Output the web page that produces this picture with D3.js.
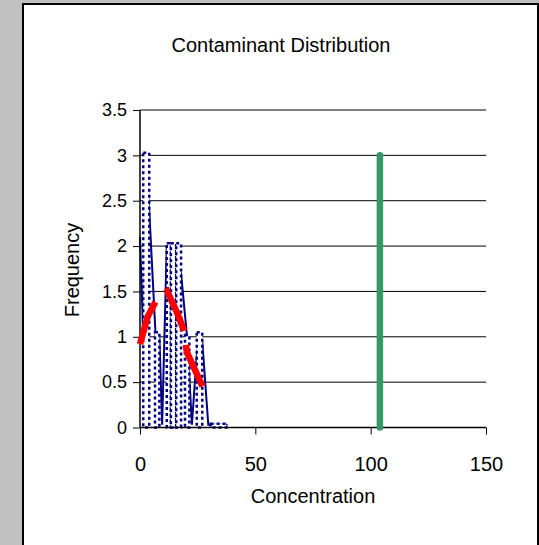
<!DOCTYPE html>
<html><head><meta charset="utf-8">
<script src="https://cdn.jsdelivr.net/npm/d3@7"></script>
<style>body{margin:0;background:#c0c0c0;} svg{display:block} text{font-family:"Liberation Sans",Arial,sans-serif;fill:#000}</style>
</head><body><svg id="c" width="539" height="545"></svg>
<script>
// ---- data ----
const xTicks = [0, 50, 100, 150];
const yTicks = [0, 0.5, 1, 1.5, 2, 2.5, 3, 3.5];
const yTickLabels = ["0", "0.5", "1", "1.5", "2", "2.5", "3", "3.5"];
// histogram columns (bin edges in concentration units, frequency)
const binStart = [1.4, 6.5, 11.6, 13.4, 15.7, 19.5, 24.6, 30.6];
const binEnd   = [4.0, 8.4, 13.4, 15.7, 17.8, 21.4, 27.0, 37.4];
const binFreq  = [3.03, 1.05, 2.03, 2.03, 2.03, 1.02, 1.05, 0.04];
// frequency polygon (thin navy line)
const polyX = [0, 1.4, 2.7, 4.0, 6.8, 8.4, 9.6, 11.6, 14.6, 17.8, 20.4, 21.4, 22.5, 24.6, 25.8, 27.0, 29.6, 38];
const polyY = [2.1, 1.0, 2.9, 2.4, 1.0, 1.0, 0.03, 2.0, 2.0, 1.7, 1.0, 0.55, 0.03, 0.8, 1.0, 0.95, 0.03, 0.03];
// fitted distribution (red dashed)
const fitX = [0, 3.3, 7.0, 11.8, 16, 19.2, 20.3, 27.7];
const fitY = [0.92, 1.22, 1.40, 1.50, 1.27, 1.06, 0.83, 0.42];
// limit line (green)
const limitX = [104, 104];
const limitY = [0, 3];

// ---- drawing ----
const svg = d3.select("#c");
svg.append("rect").attr("x", 0).attr("y", 0).attr("width", 539).attr("height", 545).attr("fill", "#c0c0c0");
svg.append("rect").attr("x", 23).attr("y", 4).attr("width", 515).attr("height", 560)
  .attr("fill", "#fff").attr("stroke", "#000").attr("stroke-width", 2);

const x = d3.scaleLinear().domain([0, 150]).range([140, 486]);
const y = d3.scaleLinear().domain([0, 3.5]).range([427.5, 110]);

// gridlines
svg.append("g").selectAll("line").data(yTicks.filter(d => d > 0)).join("line")
  .attr("x1", x(0)).attr("x2", x(150)).attr("y1", d => y(d)).attr("y2", d => y(d))
  .attr("stroke", "#000").attr("stroke-width", 1);

// frequency polygon
const poly = polyX.map((v, i) => [v, polyY[i]]);
svg.append("path").datum(poly)
  .attr("d", d3.line().x(d => x(d[0])).y(d => y(d[1])))
  .attr("fill", "none").attr("stroke", "#000080").attr("stroke-width", 2);

// histogram columns
const bins = binStart.map((s, i) => ({s, e: binEnd[i], f: binFreq[i]}));
svg.append("g").selectAll("rect").data(bins).join("rect")
  .attr("x", d => x(d.s)).attr("width", d => x(d.e) - x(d.s))
  .attr("y", d => y(d.f)).attr("height", d => y(0) - y(d.f))
  .attr("fill", "#fff").attr("stroke", "#000080").attr("stroke-width", 2.5)
  .attr("stroke-dasharray", "3,3");

// axes
const yAxis = d3.axisLeft(y).tickValues(yTicks).tickSize(7).tickPadding(6)
  .tickFormat((d, i) => yTickLabels[i]);
const gy = svg.append("g").attr("transform", `translate(${x(0)},0)`).call(yAxis);
const xAxis = d3.axisBottom(x).tickValues(xTicks).tickSize(7).tickPadding(22);
const gx = svg.append("g").attr("transform", `translate(0,${y(0)})`).call(xAxis);
[gx, gy].forEach(g => {
  g.select(".domain").attr("stroke", "#000").attr("stroke-width", 1.5);
  g.selectAll(".tick line").attr("stroke", "#000");
  g.selectAll("text").attr("fill", "#000")
    .style("font-family", "'Liberation Sans', Arial, sans-serif");
});
gx.selectAll("text").style("font-size", "20px");
gy.selectAll("text").style("font-size", "18px");
gx.select(".domain").attr("d", `M${x(0)},0H${x(150)}`);
gy.select(".domain").attr("d", `M0,${y(0)}V${y(3.5)}`);

// fitted red dashed line
const fit = fitX.map((v, i) => [v, fitY[i]]);
svg.append("path").datum(fit)
  .attr("d", d3.line().x(d => x(d[0])).y(d => y(d[1])))
  .attr("fill", "none").attr("stroke", "#ff0000").attr("stroke-width", 6.5)
  .attr("stroke-dasharray", "45,14");

// green limit line
const lim = limitX.map((v, i) => [v, limitY[i]]);
svg.append("path").datum(lim)
  .attr("d", d3.line().x(d => x(d[0])).y(d => y(d[1])))
  .attr("fill", "none").attr("stroke", "#339966").attr("stroke-width", 6.5)
  .attr("stroke-linecap", "round");

// titles
svg.append("text").attr("x", 281).attr("y", 52).attr("text-anchor", "middle")
  .style("font-size", "20px").text("Contaminant Distribution");
svg.append("text").attr("x", 313).attr("y", 503).attr("text-anchor", "middle")
  .style("font-size", "20px").text("Concentration");
svg.append("text").attr("transform", "translate(79,270) rotate(-90)").attr("text-anchor", "middle")
  .style("font-size", "20px").text("Frequency");
</script></body></html>
